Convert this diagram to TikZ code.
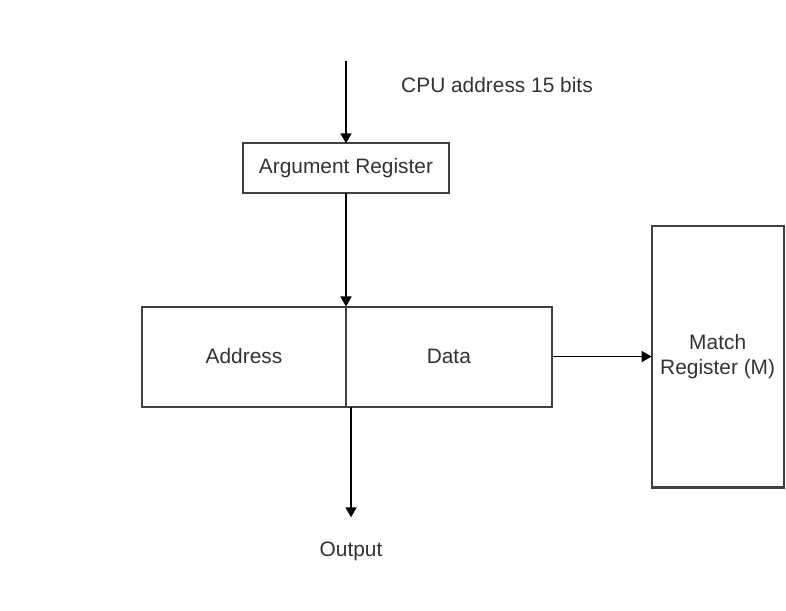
\documentclass[tikz,border=0pt]{standalone}
\usepackage{fontspec}
\setmainfont{Liberation Sans}
\usetikzlibrary{arrows.meta, positioning}

\begin{document}
\begin{tikzpicture}[
		x=0.0175cm, y=-0.0175cm,
		% box style, grey outline as in the sketch
		block/.style = {draw=black!75, rectangle, line width=1pt, outer sep=0pt, align=center, text=black!80, font=\fontsize{10.4}{12.5}\selectfont},
		lbl/.style = {text=black!80, font=\fontsize{10.4}{12.5}\selectfont},
		>={Triangle[length=5pt, width=5.5pt]}
		]
		\useasboundingbox (0,0) rectangle (786,610);
		
		% --- MEMORY WORD: Address | Data ---
		\node [block, minimum width=3.57cm, minimum height=1.75cm] at (244,356.5) (addr) {Address};
		\node [block, right=0pt of addr, minimum width=3.6cm, minimum height=1.75cm] (data) {Data};
		
		% --- ARGUMENT REGISTER ABOVE ---
		\node [block, above=1.98cm of addr.north east, minimum width=3.59cm, minimum height=0.875cm] (argreg) {Argument Register};
		\coordinate [above=1.45cm of argreg.north] (cpu_in);
		\node [lbl] at (497,85) (cpu_lbl) {CPU address 15 bits};
		
		% --- MATCH REGISTER ON THE RIGHT ---
		\node [block, right=1.75cm of data, minimum width=2.31cm, minimum height=4.585cm] (match) {Match\\Register (M)};
		
		% --- OUTPUT BELOW ---
		\coordinate [below=1.94cm of addr.south east, xshift=2.5pt] (out_tip);
		\node [lbl, below=0.3cm of out_tip] (output) {Output};
		
		\draw [->, line width=0.8pt] (cpu_in) -- (argreg.north);
		\draw [->, line width=0.8pt] (argreg.south) -- (addr.north east);
		\draw [->, line width=0.8pt] (data.east) -- (match.west);
		\draw [->, line width=0.8pt] ([xshift=2.5pt]addr.south east) -- (out_tip);
		
	\end{tikzpicture}
\end{document}
